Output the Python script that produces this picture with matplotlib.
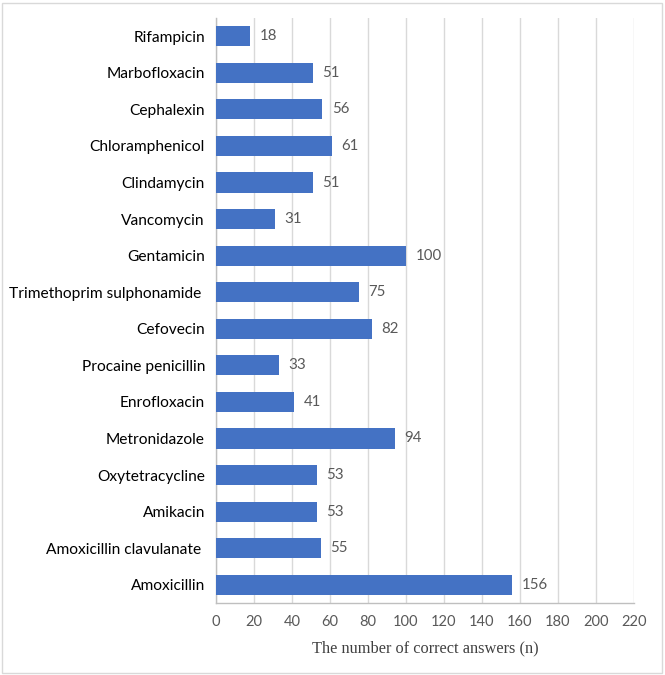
import matplotlib
matplotlib.use("Agg")
import matplotlib.pyplot as plt
from matplotlib.patches import Rectangle

drugs = ["Rifampicin", "Marbofloxacin", "Cephalexin", "Chloramphenicol", "Clindamycin",
         "Vancomycin", "Gentamicin", "Trimethoprim sulphonamide ", "Cefovecin",
         "Procaine penicillin", "Enrofloxacin", "Metronidazole", "Oxytetracycline",
         "Amikacin", "Amoxicillin clavulanate ", "Amoxicillin"]
counts = [18, 51, 56, 61, 51, 31, 100, 75, 82, 33, 41, 94, 53, 53, 55, 156]
xticks = list(range(0, 221, 20))

fig = plt.figure(figsize=(6.65, 6.75), dpi=100)
ax = fig.add_axes([216/665, 1-603/675, 418/665, 585/675])

sans = ["Lato", "DejaVu Sans"]
ypos = list(range(len(drugs)))
ax.barh(ypos, counts, height=0.55, color="#4472C4", zorder=3)
ax.set_ylim(len(drugs)-0.5, -0.5)
ax.set_xlim(0, 220)
ax.set_xticks(xticks)
ax.set_xticklabels([str(t) for t in xticks], family=sans, fontsize=10.5, color="#595959")
ax.set_yticks(ypos)
ax.set_yticklabels(drugs, family=sans, fontsize=11.2, color="black")
ax.tick_params(axis="y", length=0, pad=8)
ax.tick_params(axis="x", length=0, pad=9)
ax.xaxis.grid(True, color="#D9D9D9", linewidth=1, zorder=0)
for s in ["top", "right"]:
    ax.spines[s].set_visible(False)
for s in ["left", "bottom"]:
    ax.spines[s].set_color("#BFBFBF")
    ax.spines[s].set_linewidth(1)
for y, v in zip(ypos, counts):
    ax.text(v + 5, y, str(v), va="center", ha="left", family=sans, fontsize=10.8, color="#595959")
ax.set_xlabel("The number of correct answers (n)", family="Liberation Serif", fontsize=11.8,
              color="#404040", labelpad=8)

fig.patches.append(Rectangle((2/665, 2/675), 660/665, 670/675, transform=fig.transFigure,
                             fill=False, edgecolor="#D9D9D9", linewidth=1))
fig.savefig("out.png", dpi=100)
